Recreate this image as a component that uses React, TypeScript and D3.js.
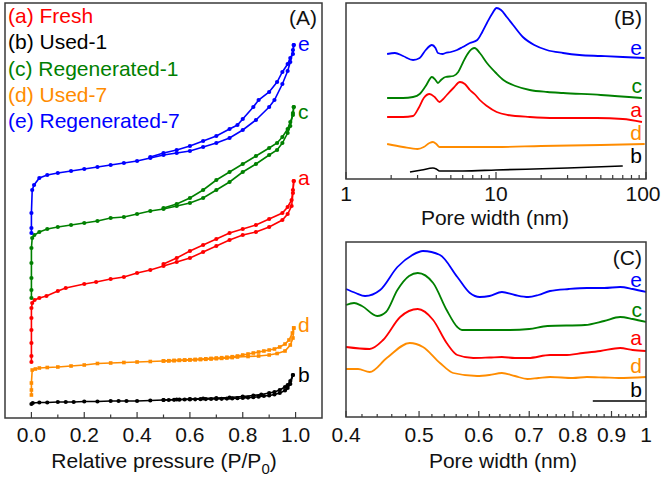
import React from "react";
import * as d3 from "d3";

type P = [number, number];

// ---------- Panel A: N2 isotherms (P/P0, adsorbed amount a.u.) ----------
const aAds: P[] = [[0,56],[0,62],[0,75],[0,88],[0,100],[0,110],[0.003,115],[0.012,118],[0.03,120],[0.057,122],[0.1,127],[0.13,130],[0.2,134],[0.245,136],[0.3,139],[0.35,141],[0.4,145],[0.45,148],[0.5,152],[0.55,156],[0.6,160],[0.65,166],[0.7,172],[0.75,178],[0.8,183],[0.85,186],[0.9,191],[0.95,198],[0.97,204],[0.985,212],[0.99,225],[0.993,237]];
const aDes: P[] = [[0.993,237],[0.99,228],[0.985,218],[0.97,211],[0.95,205],[0.9,199],[0.85,193],[0.8,189],[0.75,185],[0.7,179],[0.65,173],[0.6,167],[0.55,160],[0.5,154]];
const bAds: P[] = [[0,14],[0.005,15],[0.03,15.5],[0.06,15.5],[0.1,16],[0.13,16],[0.16,16],[0.2,16.5],[0.25,16.5],[0.3,17],[0.33,17],[0.36,17],[0.4,17],[0.45,17.5],[0.5,18],[0.52,18],[0.54,18.2],[0.56,18.3],[0.58,18.5],[0.6,18.6],[0.62,18.7],[0.64,18.8],[0.66,18.9],[0.68,19],[0.7,19.1],[0.72,19.2],[0.74,19.4],[0.76,19.6],[0.78,19.8],[0.8,20],[0.82,20.4],[0.84,20.8],[0.86,21.3],[0.88,22],[0.9,22.5],[0.92,23.5],[0.94,25],[0.96,27.5],[0.97,30],[0.98,34],[0.99,43]];
const bDes: P[] = [[0.99,43],[0.98,37],[0.97,33],[0.96,31],[0.94,28],[0.92,26],[0.9,25],[0.87,23.5],[0.84,22.5],[0.8,21.5],[0.75,20.5],[0.7,20],[0.65,19.5],[0.6,19],[0.55,18.5],[0.5,18]];
const cAds: P[] = [[0,120],[0,128],[0,140],[0,155],[0,170],[0.003,180],[0.011,183],[0.03,186],[0.06,189],[0.1,191],[0.15,193],[0.2,195],[0.25,197],[0.3,200],[0.35,201],[0.4,204],[0.45,207],[0.5,209],[0.55,212],[0.6,215],[0.65,220],[0.7,228],[0.75,236],[0.8,246],[0.85,254],[0.9,263],[0.93,268],[0.95,275],[0.97,285],[0.98,292],[0.99,305],[0.993,311]];
const cDes: P[] = [[0.993,311],[0.99,303],[0.98,296],[0.97,289],[0.95,281],[0.93,275],[0.9,270],[0.85,262],[0.8,254],[0.75,246],[0.7,238],[0.65,228],[0.6,220],[0.55,214],[0.5,210]];
const dAds: P[] = [[0,23],[0,28],[0,35],[0.003,48],[0.015,49],[0.03,50],[0.06,50.5],[0.1,51],[0.15,52],[0.2,53],[0.25,54.5],[0.3,55],[0.35,55.5],[0.4,56],[0.45,56.5],[0.5,57],[0.52,57.2],[0.54,57.4],[0.56,57.6],[0.58,57.8],[0.6,58],[0.62,58.2],[0.64,58.4],[0.66,58.7],[0.68,59],[0.7,59.3],[0.72,59.6],[0.74,60],[0.76,60.4],[0.78,61],[0.82,61.5],[0.86,62],[0.9,63],[0.93,64.5],[0.96,67],[0.98,73],[0.99,80],[0.993,90]];
const dDes: P[] = [[0.993,90],[0.988,85],[0.975,78],[0.96,74],[0.94,71],[0.92,69],[0.9,68],[0.88,67],[0.86,66],[0.84,65],[0.82,64],[0.8,63],[0.78,62],[0.76,61.3],[0.74,60.8],[0.72,60.3],[0.7,60],[0.68,59.6],[0.66,59.2],[0.64,58.9],[0.62,58.6],[0.6,58.3],[0.58,58],[0.56,57.8],[0.54,57.5],[0.52,57.3],[0.5,57.1]];
const eAds: P[] = [[0,185],[0,190],[0,205],[0.003,228],[0.01,233],[0.03,240],[0.06,243],[0.1,245],[0.15,247],[0.2,249],[0.25,251],[0.3,253],[0.35,255],[0.4,257],[0.45,260],[0.5,263],[0.55,265],[0.6,267],[0.65,271],[0.7,275],[0.75,280],[0.8,288],[0.85,298],[0.9,311],[0.92,318],[0.95,334],[0.97,347],[0.98,356],[0.99,368],[0.993,373]];
const eDes: P[] = [[0.993,373],[0.99,364],[0.98,360],[0.97,354],[0.95,346],[0.93,336],[0.9,326],[0.86,318],[0.84,311],[0.8,299],[0.78,293],[0.75,289],[0.7,282],[0.65,277],[0.6,272],[0.55,268],[0.5,265],[0.45,261]];

// ---------- Panel B: pore size distribution 1-100 nm ----------
const bE: P[] = [[1.88,125],[2.12,126],[2.4,123],[2.8,119],[3.1,121],[3.4,129],[3.74,134],[3.95,131],[4.1,126],[4.4,125],[4.6,126],[5.0,127],[5.5,129],[6.0,132],[6.7,136],[7.5,139],[8.1,147],[8.7,156],[9.4,165],[10.1,171],[10.8,169],[11.8,162],[13,154],[15.1,142],[18,134],[21.8,129],[28,126],[36,124],[50,123],[70,122],[98,121]];
const bC: P[] = [[1.88,81],[2.4,81],[2.8,82],[3.1,85],[3.4,93],[3.74,102],[3.95,99],[4.1,96],[4.3,99],[4.6,102],[5.2,103],[5.6,107],[6.0,116],[6.4,124],[6.9,130],[7.2,131],[7.8,126],[8.7,116],[10,106],[11.2,99],[13.5,93],[16.8,89],[22,87],[28,86],[50,84],[94,81]];
const bA: P[] = [[1.88,62],[2.4,62],[2.8,63],[3.05,71],[3.3,81],[3.6,85],[3.9,82],[4.2,77],[4.45,80],[4.7,84],[5.2,91],[5.75,97],[6.2,95],[6.7,89],[7.3,84],[7.8,79],[8.7,73],[10.1,67],[12,64],[16.8,62],[25,61],[47,61],[70,60],[94,57]];
const bD: P[] = [[1.88,35],[2.4,32],[3.0,30],[3.3,32],[3.6,36],[3.8,37],[4.0,35],[4.2,32],[5,32],[10,32],[20,33],[50,34],[98,35]];
const bB: P[] = [[2.67,7],[3.2,9],[3.8,11],[4.0,10],[4.2,8],[6,8],[10,9],[30,11],[70,13]];

// ---------- Panel C: pore size distribution 0.4-1 nm ----------
const cE: P[] = [[0.40,128],[0.412,124],[0.424,121],[0.444,127],[0.468,150],[0.49,162],[0.506,166],[0.533,162],[0.562,140],[0.584,124],[0.602,120],[0.62,121],[0.644,125],[0.67,122],[0.698,120],[0.72,122],[0.746,126],[0.79,128],[0.835,129],[0.88,129],[0.924,130],[0.96,128],[1.0,125]];
const cC: P[] = [[0.40,112],[0.41,114],[0.42,111],[0.44,101],[0.452,105],[0.468,127],[0.485,141],[0.498,144],[0.522,134],[0.544,107],[0.562,90],[0.57,87],[0.6,87],[0.66,87],[0.70,88],[0.74,91],[0.83,92],[0.88,96],[0.924,100],[0.96,98],[1.0,95]];
const cA: P[] = [[0.40,70],[0.43,68],[0.448,77],[0.472,100],[0.498,108],[0.522,97],[0.544,74],[0.562,62],[0.59,59],[0.62,59.5],[0.644,60],[0.67,59],[0.698,59],[0.746,62],[0.78,62],[0.825,64],[0.87,66],[0.924,69],[0.96,67],[1.0,66]];
const cD: P[] = [[0.40,48],[0.415,48],[0.43,45],[0.453,59],[0.486,74],[0.506,70],[0.533,54],[0.555,44],[0.597,41],[0.62,42],[0.644,44],[0.67,41],[0.696,38],[0.72,39],[0.746,40],[0.80,39],[0.835,40],[0.88,39.5],[0.92,39],[1.0,40]];
const cB: P[] = [[0.85,16],[1.0,16]];

const legendLabels = ["(a) Fresh", "(b) Used-1", "(c) Regenerated-1", "(d) Used-7", "(e) Regenerated-7"];
const ticksA = [0, 0.2, 0.4, 0.6, 0.8, 1.0];
const ticksB = [1, 10, 100];
const ticksC = [0.4, 0.5, 0.6, 0.7, 0.8, 0.9, 1];

const RED = "#ff0000", BLACK = "#000000", GREEN = "#008000", ORANGE = "#ff8c00", BLUE = "#0000ff";
const FONT = "'Liberation Sans', Arial, sans-serif";
const FRAME = "#3a3a3a";

export default function App() {
  const xA = d3.scaleLinear().domain([-0.1, 1.1]).range([5, 322]);
  const yA = d3.scaleLinear().domain([0, 415]).range([418, 3]);
  const xB = d3.scaleLog().domain([1, 100]).range([346, 646]);
  const yB = d3.scaleLinear().domain([0, 176]).range([179, 3]);
  const xC = d3.scaleLog().domain([0.4, 1]).range([346, 646]);
  const yC = d3.scaleLinear().domain([0, 175]).range([417, 242]);

  const lineA = d3.line<P>().x(d => xA(d[0])).y(d => yA(d[1]));
  const lineB = d3.line<P>().x(d => xB(d[0])).y(d => yB(d[1])).curve(d3.curveMonotoneX);
  const lineC = d3.line<P>().x(d => xC(d[0])).y(d => yC(d[1])).curve(d3.curveMonotoneX);

  const isoSeries = [
    { ads: bAds, des: bDes, color: BLACK, sq: false },
    { ads: dAds, des: dDes, color: ORANGE, sq: true },
    { ads: aAds, des: aDes, color: RED, sq: false },
    { ads: cAds, des: cDes, color: GREEN, sq: false },
    { ads: eAds, des: eDes, color: BLUE, sq: false },
  ];

  const minorA = d3.range(0.1, 1.0, 0.2);
  const minorB = [2,3,4,5,6,7,8,9,20,30,40,50,60,70,80,90];
  const minorC = d3.range(0, 30).map(i => +(0.42 + i * 0.02).toFixed(2)).filter(v => v < 1 && Math.abs(v * 10 - Math.round(v * 10)) > 1e-6);

  const fs = 21;

  return (
    <svg width={666} height={479} style={{ position: "absolute", left: 0, top: 0, background: "#fff" }} fontFamily={FONT}>
      {/* ---------- Panel A ---------- */}
      <g>
        {isoSeries.map((s, i) => (
          <g key={i}>
            <path d={lineA(s.ads) || ""} fill="none" stroke={s.color} strokeWidth={1.6} />
            <path d={lineA(s.des) || ""} fill="none" stroke={s.color} strokeWidth={1.6} />
            {[...s.ads, ...s.des].map((p, j) =>
              s.sq ? (
                <rect key={j} x={xA(p[0]) - 1.8} y={yA(p[1]) - 1.8} width={3.6} height={3.6} fill={s.color} />
              ) : (
                <circle key={j} cx={xA(p[0])} cy={yA(p[1])} r={2.1} fill={s.color} />
              )
            )}
          </g>
        ))}
        <rect x={5} y={3} width={317} height={415} fill="none" stroke={FRAME} strokeWidth={1.5} />
        {ticksA.map(t => (
          <g key={t}>
            <line x1={xA(t)} x2={xA(t)} y1={418} y2={412} stroke={FRAME} strokeWidth={1.2} />
            <text x={xA(t)} y={442} fontSize={fs} textAnchor="middle" fill="#111">{t.toFixed(1)}</text>
          </g>
        ))}
        {minorA.map(t => (
          <line key={t} x1={xA(t)} x2={xA(t)} y1={418} y2={414.5} stroke={FRAME} strokeWidth={1.2} />
        ))}
        <text x={164} y={468} fontSize={fs} textAnchor="middle" fill="#111">
          Relative pressure (P/P<tspan fontSize={15} dy={6}>0</tspan><tspan dy={-6}>)</tspan>
        </text>
        {legendLabels.map((l, i) => (
          <text key={l} x={8} y={23 + i * 26.3} fontSize={fs} fill={[RED, BLACK, GREEN, ORANGE, BLUE][i]}>{l}</text>
        ))}
        <text x={317} y={25} fontSize={fs} textAnchor="end" fill="#111">(A)</text>
        <text x={298} y={51} fontSize={fs} fill={BLUE}>e</text>
        <text x={298} y={119} fontSize={fs} fill={GREEN}>c</text>
        <text x={298} y={185} fontSize={fs} fill={RED}>a</text>
        <text x={298} y={332} fontSize={fs} fill={ORANGE}>d</text>
        <text x={298} y={382} fontSize={fs} fill={BLACK}>b</text>
      </g>

      {/* ---------- Panel B ---------- */}
      <g>
        {[
          { d: bB, c: BLACK, w: 1.6 },
          { d: bD, c: ORANGE, w: 1.8 },
          { d: bA, c: RED, w: 1.8 },
          { d: bC, c: GREEN, w: 1.8 },
          { d: bE, c: BLUE, w: 1.8 },
        ].map((s, i) => (
          <path key={i} d={lineB(s.d) || ""} fill="none" stroke={s.c} strokeWidth={s.w} />
        ))}
        <rect x={346} y={3} width={300} height={176} fill="none" stroke={FRAME} strokeWidth={1.5} />
        {ticksB.map(t => (
          <g key={t}>
            <line x1={xB(t)} x2={xB(t)} y1={179} y2={172} stroke={FRAME} strokeWidth={1.2} />
            <text x={t === 100 ? xB(t) - 3 : xB(t)} y={201} fontSize={fs} textAnchor="middle" fill="#111">{t}</text>
          </g>
        ))}
        {minorB.map(t => (
          <line key={t} x1={xB(t)} x2={xB(t)} y1={179} y2={175} stroke={FRAME} strokeWidth={1.2} />
        ))}
        <text x={495} y={225} fontSize={fs} textAnchor="middle" fill="#111">Pore width (nm)</text>
        <text x={642} y={25} fontSize={fs} textAnchor="end" fill="#111">(B)</text>
        <text x={642} y={55} fontSize={fs} textAnchor="end" fill={BLUE}>e</text>
        <text x={642} y={93} fontSize={fs} textAnchor="end" fill={GREEN}>c</text>
        <text x={642} y={117} fontSize={fs} textAnchor="end" fill={RED}>a</text>
        <text x={642} y={140} fontSize={fs} textAnchor="end" fill={ORANGE}>d</text>
        <text x={642} y={163} fontSize={fs} textAnchor="end" fill={BLACK}>b</text>
      </g>

      {/* ---------- Panel C ---------- */}
      <g>
        {[
          { d: cB, c: BLACK, w: 1.6 },
          { d: cD, c: ORANGE, w: 1.8 },
          { d: cA, c: RED, w: 1.8 },
          { d: cC, c: GREEN, w: 1.8 },
          { d: cE, c: BLUE, w: 1.8 },
        ].map((s, i) => (
          <path key={i} d={lineC(s.d) || ""} fill="none" stroke={s.c} strokeWidth={s.w} />
        ))}
        <rect x={346} y={242} width={300} height={175} fill="none" stroke={FRAME} strokeWidth={1.5} />
        {ticksC.map(t => (
          <g key={t}>
            <line x1={xC(t)} x2={xC(t)} y1={417} y2={411} stroke={FRAME} strokeWidth={1.2} />
            <text x={xC(t)} y={442} fontSize={fs} textAnchor="middle" fill="#111">{String(t)}</text>
          </g>
        ))}
        {minorC.map(t => (
          <line key={t} x1={xC(t)} x2={xC(t)} y1={417} y2={414} stroke={FRAME} strokeWidth={1.2} />
        ))}
        <text x={503} y={468} fontSize={fs} textAnchor="middle" fill="#111">Pore width (nm)</text>
        <text x={642} y={265} fontSize={fs} textAnchor="end" fill="#111">(C)</text>
        <text x={642} y={287} fontSize={fs} textAnchor="end" fill={BLUE}>e</text>
        <text x={642} y={317} fontSize={fs} textAnchor="end" fill={GREEN}>c</text>
        <text x={642} y={345} fontSize={fs} textAnchor="end" fill={RED}>a</text>
        <text x={642} y={373} fontSize={fs} textAnchor="end" fill={ORANGE}>d</text>
        <text x={642} y={397} fontSize={fs} textAnchor="end" fill={BLACK}>b</text>
      </g>
    </svg>
  );
}
